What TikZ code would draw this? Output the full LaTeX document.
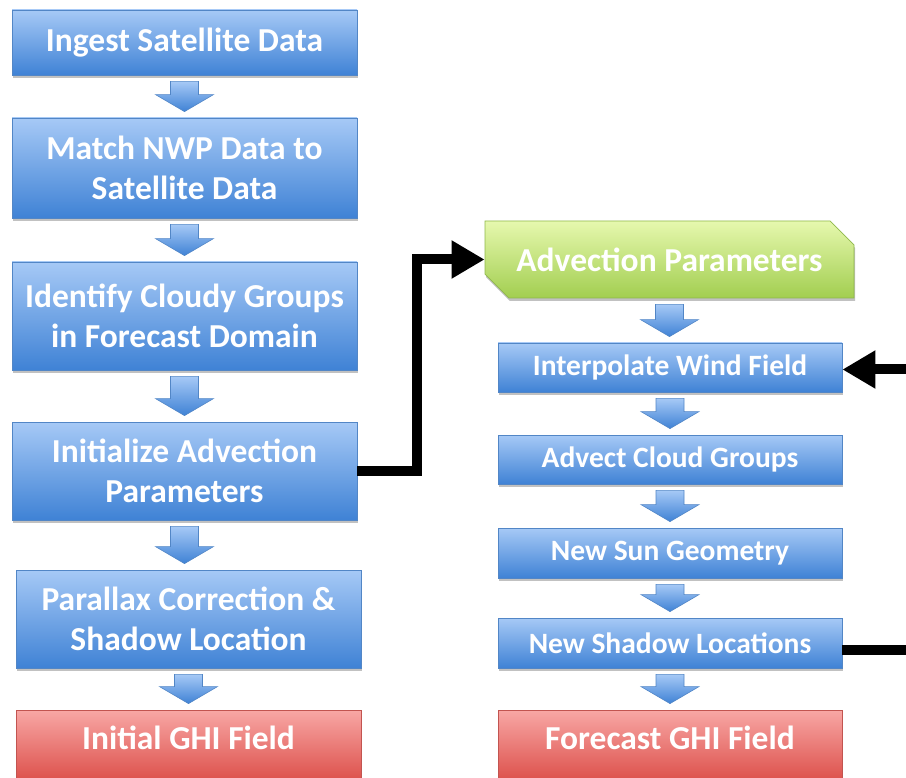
\documentclass[tikz,border=0pt]{standalone}
\usepackage{fontspec}
\setmainfont{Carlito}
\usetikzlibrary{shapes.misc,shadows,calc,arrows.meta}
\definecolor{bluetop}{HTML}{A6C9F6}
\definecolor{bluebot}{HTML}{3F82D5}
\definecolor{blueedge}{HTML}{5286C6}
\definecolor{redtop}{HTML}{F8A7A5}
\definecolor{redbot}{HTML}{D9453F}
\definecolor{rededge}{HTML}{C25450}
\definecolor{greentop}{HTML}{E6F8AE}
\definecolor{greenbot}{HTML}{A2CE50}
\definecolor{greenedge}{HTML}{8FB84A}
\tikzset{
  basebox/.style={text=white, align=center, inner sep=0pt, line width=0.8pt,
    drop shadow={shadow xshift=1pt,shadow yshift=-3pt,opacity=0.35,fill=black!70}},
  bluebox/.style={basebox, rectangle, draw=blueedge, top color=bluetop, bottom color=bluebot},
  redbox/.style={basebox, rectangle, draw=rededge, top color=redtop, bottom color=redbot,
    text height=25pt, text depth=27pt},
  greenbox/.style={basebox, chamfered rectangle, chamfered rectangle corners={north east,south west},
    chamfered rectangle xsep=12pt, chamfered rectangle ysep=12pt,
    draw=greenedge, top color=greentop, bottom color=greenbot},
  bigfont/.style={font=\bfseries\fontsize{33.5}{40}\selectfont},
  leftcol/.style={minimum width=345pt, bigfont},
  rightcol/.style={minimum width=344pt, font=\bfseries\fontsize{29.5}{34}\selectfont},
  blockarrow/.style={draw=blueedge, line width=0.6pt, top color=bluetop, bottom color=bluebot},
  conn/.style={draw=black, line width=10pt, line join=miter, -{Triangle[length=33pt,width=36pt]}}
}
\newcommand\flowarrow[2]{%
  \path[blockarrow] let \p1=($(#1.south)+(0,6)$), \p2=($(#2.north)+(0,-6)$) in
    (\x1-14pt,\y1) -- (\x1+14pt,\y1) -- (\x1+14pt,\y2+17pt) -- (\x1+29pt,\y2+17pt)
    -- (\x1,\y2) -- (\x1-29pt,\y2+17pt) -- (\x1-14pt,\y2+17pt) -- cycle;}
\begin{document}
\begin{tikzpicture}[x=1pt,y=-1pt]
\useasboundingbox (0,0) rectangle (906,778);
% left column
\node[bluebox,leftcol,minimum height=65pt] (ingest) at (184.5,42.5) {Ingest Satellite Data};
\node[bluebox,leftcol,minimum height=100pt] (match) at (184.5,168) {Match NWP Data to\\Satellite Data};
\node[bluebox,leftcol,minimum height=108pt] (ident) at (184.5,316) {Identify Cloudy Groups\\in Forecast Domain};
\node[bluebox,leftcol,minimum height=98pt] (init) at (184.5,471) {Initialize Advection\\Parameters};
\node[bluebox,leftcol,minimum height=98pt] (parallax) at (188.5,619) {Parallax Correction \&\\Shadow Location};
\node[redbox,leftcol,minimum height=80pt] (initghi) at (188.5,750) {Initial GHI Field};
% right column
\node[greenbox,bigfont,minimum width=369pt,minimum height=77pt] (adv) at (669.5,259.5) {Advection Parameters};
\node[bluebox,rightcol,minimum height=49pt] (interp) at (670,367.5) {Interpolate Wind Field};
\node[bluebox,rightcol,minimum height=49pt] (advect) at (670,459.5) {Advect Cloud Groups};
\node[bluebox,rightcol,minimum height=50pt] (sun) at (670,553) {New Sun Geometry};
\node[bluebox,rightcol,minimum height=50pt] (shadow) at (670,643) {New Shadow Locations};
\node[redbox,rightcol,bigfont,minimum height=80pt] (fcghi) at (670,750) {Forecast GHI Field};
% block arrows
\flowarrow{ingest}{match}
\flowarrow{match}{ident}
\flowarrow{ident}{init}
\flowarrow{init}{parallax}
\flowarrow{parallax}{initghi}
\flowarrow{adv}{interp}
\flowarrow{interp}{advect}
\flowarrow{advect}{sun}
\flowarrow{sun}{shadow}
\flowarrow{shadow}{fcghi}
% connectors
\coordinate (c1) at (417,0);
\coordinate (c2) at (911,0);
\draw[conn] (init.east) -| (c1 |- adv.west) -- (adv.west);
\draw[conn] ($(shadow.east)+(0,7)$) -| ($(c2 |- interp.east)+(0,2)$) -- ($(interp.east)+(0,2)$);
\end{tikzpicture}
\end{document}
